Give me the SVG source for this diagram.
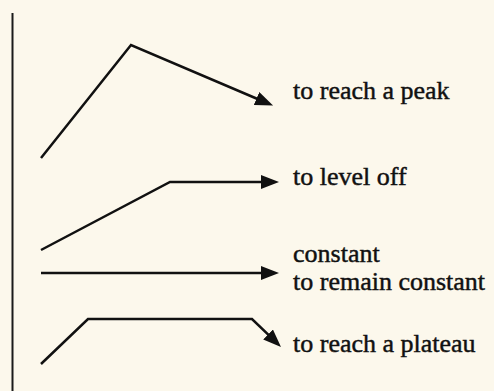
<svg xmlns="http://www.w3.org/2000/svg" width="494" height="391" viewBox="0 0 494 391">
  <style>
    .bg { fill: #fcf8ec; }
    .axis { stroke: #1a1a1a; stroke-width: 2; fill: none; }
    .trend { stroke: #111; stroke-width: 2.5; fill: none; stroke-linejoin: miter; }
    .label { font-family: "Liberation Serif", "Times New Roman", Times, serif; font-size: 26px; fill: #111; stroke: #111; stroke-width: 0.45; }
  </style>
  <defs>
    <marker id="head" markerUnits="userSpaceOnUse" markerWidth="19" markerHeight="15" refX="5" refY="7" orient="auto">
      <path d="M0,0 L18,7 L0,14 z" fill="#111"/>
    </marker>
  </defs>

  <rect class="bg" x="0" y="0" width="494" height="391"/>

  <!-- vertical axis on the left -->
  <line class="axis" x1="12.5" y1="13" x2="12.5" y2="391"/>

  <g id="connectors">
    <!-- rise, then fall after the peak -->
    <polyline id="trend-peak" class="trend" points="41,158 131,45 261.12,100.50" marker-end="url(#head)"/>
    <!-- rise, then flat -->
    <polyline id="trend-level" class="trend" points="41,250 170,182 266,182" marker-end="url(#head)"/>
    <!-- flat throughout -->
    <polyline id="trend-constant" class="trend" points="41,273 266,273" marker-end="url(#head)"/>
    <!-- rise, flat plateau, then drop -->
    <polyline id="trend-plateau" class="trend" points="41,364 88,319 252,319 271.65,337.97" marker-end="url(#head)"/>
  </g>

  <g id="label-peak">
    <text class="label" x="293" y="99">to reach a peak</text>
  </g>
  <g id="label-level">
    <text class="label" x="293" y="185">to level off</text>
  </g>
  <g id="label-constant">
    <text class="label" x="293" y="262">constant</text>
    <text class="label" x="293" y="290">to remain constant</text>
  </g>
  <g id="label-plateau">
    <text class="label" x="293" y="352">to reach a plateau</text>
  </g>
</svg>
